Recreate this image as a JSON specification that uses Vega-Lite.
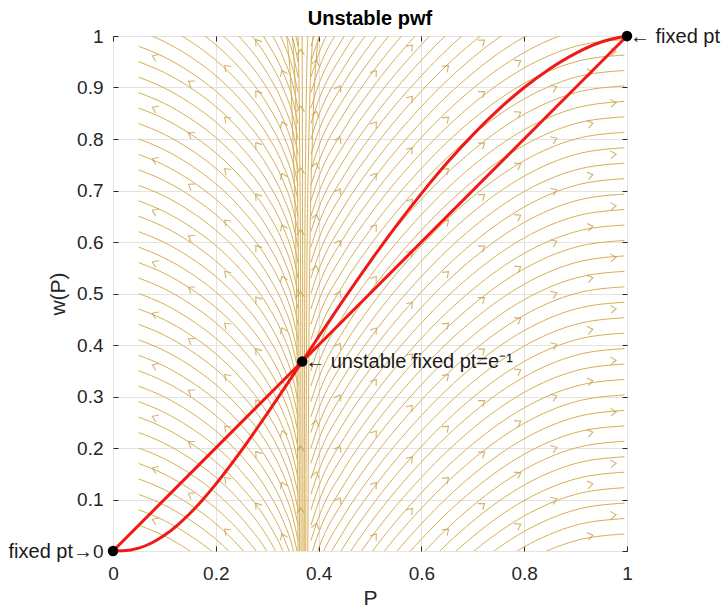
{
"$schema": "https://vega.github.io/schema/vega-lite/v6.json",
"width": 514, "height": 515,
"autosize": {"type": "none"},
"padding": {"left": 113, "top": 36, "right": 97, "bottom": 58},
"background": "white",
"config": {
 "font": "Liberation Sans",
 "view": {"stroke": "#262626", "strokeWidth": 1},
 "axis": {"labelFont": "Liberation Sans", "titleFont": "Liberation Sans", "labelColor": "#262626", "titleColor": "#262626", "domainColor": "#262626", "tickColor": "#262626", "gridColor": "#E3E3E3", "labelFontSize": 19, "titleFontSize": 21, "titleFontWeight": "normal", "labelFlush": false, "labelOverlap": false}
},
"title": {"text": "Unstable pwf", "fontSize": 20, "fontWeight": "bold", "color": "#000000", "offset": -2, "font": "Liberation Sans"},
"datasets": {
 "sl": [
  {"id":"L05","p":[0.05,0.1,0.15,0.2,0.25,0.3,0.33,0.35,0.36],"w":[0.05,0.029,0,-0.037,-0.086,-0.152,-0.209,-0.265,-0.31]},
  {"id":"L08","p":[0.05,0.1,0.15,0.2,0.25,0.3,0.33,0.35,0.36],"w":[0.08,0.059,0.03,-0.007,-0.056,-0.122,-0.179,-0.235,-0.28]},
  {"id":"L11","p":[0.05,0.1,0.15,0.2,0.25,0.3,0.33,0.35,0.36],"w":[0.11,0.089,0.06,0.023,-0.026,-0.092,-0.149,-0.205,-0.25]},
  {"id":"L14","p":[0.05,0.1,0.15,0.2,0.25,0.3,0.33,0.35,0.36],"w":[0.14,0.119,0.09,0.053,0.004,-0.062,-0.119,-0.175,-0.22]},
  {"id":"L17","p":[0.05,0.1,0.15,0.2,0.25,0.3,0.33,0.35,0.36],"w":[0.17,0.149,0.12,0.083,0.034,-0.032,-0.089,-0.145,-0.19]},
  {"id":"L20","p":[0.05,0.1,0.15,0.2,0.25,0.3,0.33,0.35,0.36],"w":[0.2,0.179,0.15,0.113,0.064,-0.002,-0.059,-0.115,-0.16]},
  {"id":"L23","p":[0.05,0.1,0.15,0.2,0.25,0.3,0.33,0.35,0.36],"w":[0.23,0.209,0.18,0.143,0.094,0.028,-0.029,-0.085,-0.13]},
  {"id":"L26","p":[0.05,0.1,0.15,0.2,0.25,0.3,0.33,0.35,0.36],"w":[0.26,0.239,0.21,0.173,0.124,0.058,0.001,-0.055,-0.1]},
  {"id":"L29","p":[0.05,0.1,0.15,0.2,0.25,0.3,0.33,0.35,0.36],"w":[0.29,0.269,0.24,0.203,0.154,0.088,0.031,-0.025,-0.07]},
  {"id":"L32","p":[0.05,0.1,0.15,0.2,0.25,0.3,0.33,0.35,0.36],"w":[0.32,0.299,0.27,0.233,0.184,0.118,0.061,0.005,-0.04]},
  {"id":"L35","p":[0.05,0.1,0.15,0.2,0.25,0.3,0.33,0.35,0.36],"w":[0.35,0.329,0.3,0.263,0.214,0.148,0.091,0.035,-0.01]},
  {"id":"L38","p":[0.05,0.1,0.15,0.2,0.25,0.3,0.33,0.35,0.36],"w":[0.38,0.359,0.33,0.293,0.244,0.178,0.121,0.065,0.02]},
  {"id":"L41","p":[0.05,0.1,0.15,0.2,0.25,0.3,0.33,0.35,0.36],"w":[0.41,0.389,0.36,0.323,0.274,0.208,0.151,0.095,0.05]},
  {"id":"L44","p":[0.05,0.1,0.15,0.2,0.25,0.3,0.33,0.35,0.36],"w":[0.44,0.419,0.39,0.353,0.304,0.238,0.181,0.125,0.08]},
  {"id":"L47","p":[0.05,0.1,0.15,0.2,0.25,0.3,0.33,0.35,0.36],"w":[0.47,0.449,0.42,0.383,0.334,0.268,0.211,0.155,0.11]},
  {"id":"L50","p":[0.05,0.1,0.15,0.2,0.25,0.3,0.33,0.35,0.36],"w":[0.5,0.479,0.45,0.413,0.364,0.298,0.241,0.185,0.14]},
  {"id":"L53","p":[0.05,0.1,0.15,0.2,0.25,0.3,0.33,0.35,0.36],"w":[0.53,0.509,0.48,0.443,0.394,0.328,0.271,0.215,0.17]},
  {"id":"L56","p":[0.05,0.1,0.15,0.2,0.25,0.3,0.33,0.35,0.36],"w":[0.56,0.539,0.51,0.473,0.424,0.358,0.301,0.245,0.2]},
  {"id":"L59","p":[0.05,0.1,0.15,0.2,0.25,0.3,0.33,0.35,0.36],"w":[0.59,0.569,0.54,0.503,0.454,0.388,0.331,0.275,0.23]},
  {"id":"L62","p":[0.05,0.1,0.15,0.2,0.25,0.3,0.33,0.35,0.36],"w":[0.62,0.599,0.57,0.533,0.484,0.418,0.361,0.305,0.26]},
  {"id":"L65","p":[0.05,0.1,0.15,0.2,0.25,0.3,0.33,0.35,0.36],"w":[0.65,0.629,0.6,0.563,0.514,0.448,0.391,0.335,0.29]},
  {"id":"L68","p":[0.05,0.1,0.15,0.2,0.25,0.3,0.33,0.35,0.36],"w":[0.68,0.659,0.63,0.593,0.544,0.478,0.421,0.365,0.32]},
  {"id":"L71","p":[0.05,0.1,0.15,0.2,0.25,0.3,0.33,0.35,0.36],"w":[0.71,0.689,0.66,0.623,0.574,0.508,0.451,0.395,0.35]},
  {"id":"L74","p":[0.05,0.1,0.15,0.2,0.25,0.3,0.33,0.35,0.36],"w":[0.74,0.719,0.69,0.653,0.604,0.538,0.481,0.425,0.38]},
  {"id":"L77","p":[0.05,0.1,0.15,0.2,0.25,0.3,0.33,0.35,0.36],"w":[0.77,0.749,0.72,0.683,0.634,0.568,0.511,0.455,0.41]},
  {"id":"L80","p":[0.05,0.1,0.15,0.2,0.25,0.3,0.33,0.35,0.36],"w":[0.8,0.779,0.75,0.713,0.664,0.598,0.541,0.485,0.44]},
  {"id":"L83","p":[0.05,0.1,0.15,0.2,0.25,0.3,0.33,0.35,0.36],"w":[0.83,0.809,0.78,0.743,0.694,0.628,0.571,0.515,0.47]},
  {"id":"L86","p":[0.05,0.1,0.15,0.2,0.25,0.3,0.33,0.35,0.36],"w":[0.86,0.839,0.81,0.773,0.724,0.658,0.601,0.545,0.5]},
  {"id":"L89","p":[0.05,0.1,0.15,0.2,0.25,0.3,0.33,0.35,0.36],"w":[0.89,0.869,0.84,0.803,0.754,0.688,0.631,0.575,0.53]},
  {"id":"L92","p":[0.05,0.1,0.15,0.2,0.25,0.3,0.33,0.35,0.36],"w":[0.92,0.899,0.87,0.833,0.784,0.718,0.661,0.605,0.56]},
  {"id":"L95","p":[0.05,0.1,0.15,0.2,0.25,0.3,0.33,0.35,0.36],"w":[0.95,0.929,0.9,0.863,0.814,0.748,0.691,0.635,0.59]},
  {"id":"L98","p":[0.05,0.1,0.15,0.2,0.25,0.3,0.33,0.35,0.36],"w":[0.98,0.959,0.93,0.893,0.844,0.778,0.721,0.665,0.62]},
  {"id":"L101","p":[0.05,0.1,0.15,0.2,0.25,0.3,0.33,0.35,0.36],"w":[1.01,0.989,0.96,0.923,0.874,0.808,0.751,0.695,0.65]},
  {"id":"L104","p":[0.05,0.1,0.15,0.2,0.25,0.3,0.33,0.35,0.36],"w":[1.04,1.019,0.99,0.953,0.904,0.838,0.781,0.725,0.68]},
  {"id":"L107","p":[0.05,0.1,0.15,0.2,0.25,0.3,0.33,0.35,0.36],"w":[1.07,1.049,1.02,0.983,0.934,0.868,0.811,0.755,0.71]},
  {"id":"L110","p":[0.05,0.1,0.15,0.2,0.25,0.3,0.33,0.35,0.36],"w":[1.1,1.079,1.05,1.013,0.964,0.898,0.841,0.785,0.74]},
  {"id":"L113","p":[0.05,0.1,0.15,0.2,0.25,0.3,0.33,0.35,0.36],"w":[1.13,1.109,1.08,1.043,0.994,0.928,0.871,0.815,0.77]},
  {"id":"L116","p":[0.05,0.1,0.15,0.2,0.25,0.3,0.33,0.35,0.36],"w":[1.16,1.139,1.11,1.073,1.024,0.958,0.901,0.845,0.8]},
  {"id":"L119","p":[0.05,0.1,0.15,0.2,0.25,0.3,0.33,0.35,0.36],"w":[1.19,1.169,1.14,1.103,1.054,0.988,0.931,0.875,0.83]},
  {"id":"L122","p":[0.05,0.1,0.15,0.2,0.25,0.3,0.33,0.35,0.36],"w":[1.22,1.199,1.17,1.133,1.084,1.018,0.961,0.905,0.86]},
  {"id":"L125","p":[0.05,0.1,0.15,0.2,0.25,0.3,0.33,0.35,0.36],"w":[1.25,1.229,1.2,1.163,1.114,1.048,0.991,0.935,0.89]},
  {"id":"L128","p":[0.05,0.1,0.15,0.2,0.25,0.3,0.33,0.35,0.36],"w":[1.28,1.259,1.23,1.193,1.144,1.078,1.021,0.965,0.92]},
  {"id":"L131","p":[0.05,0.1,0.15,0.2,0.25,0.3,0.33,0.35,0.36],"w":[1.31,1.289,1.26,1.223,1.174,1.108,1.051,0.995,0.95]},
  {"id":"L134","p":[0.05,0.1,0.15,0.2,0.25,0.3,0.33,0.35,0.36],"w":[1.34,1.319,1.29,1.253,1.204,1.138,1.081,1.025,0.98]},
  {"id":"Rm52","p":[0.385,0.4,0.45,0.5,0.6,0.7,0.8,0.9,0.995],"w":[-0.52,-0.475,-0.38,-0.307,-0.187,-0.092,-0.022,0.02,0.033]},
  {"id":"Rm49","p":[0.385,0.4,0.45,0.5,0.6,0.7,0.8,0.9,0.995],"w":[-0.49,-0.445,-0.35,-0.277,-0.157,-0.062,0.008,0.05,0.063]},
  {"id":"Rm46","p":[0.385,0.4,0.45,0.5,0.6,0.7,0.8,0.9,0.995],"w":[-0.46,-0.415,-0.32,-0.247,-0.127,-0.032,0.038,0.08,0.093]},
  {"id":"Rm43","p":[0.385,0.4,0.45,0.5,0.6,0.7,0.8,0.9,0.995],"w":[-0.43,-0.385,-0.29,-0.217,-0.097,-0.002,0.068,0.11,0.123]},
  {"id":"Rm40","p":[0.385,0.4,0.45,0.5,0.6,0.7,0.8,0.9,0.995],"w":[-0.4,-0.355,-0.26,-0.187,-0.067,0.028,0.098,0.14,0.153]},
  {"id":"Rm37","p":[0.385,0.4,0.45,0.5,0.6,0.7,0.8,0.9,0.995],"w":[-0.37,-0.325,-0.23,-0.157,-0.037,0.058,0.128,0.17,0.183]},
  {"id":"Rm34","p":[0.385,0.4,0.45,0.5,0.6,0.7,0.8,0.9,0.995],"w":[-0.34,-0.295,-0.2,-0.127,-0.007,0.088,0.158,0.2,0.213]},
  {"id":"Rm31","p":[0.385,0.4,0.45,0.5,0.6,0.7,0.8,0.9,0.995],"w":[-0.31,-0.265,-0.17,-0.097,0.023,0.118,0.188,0.23,0.243]},
  {"id":"Rm28","p":[0.385,0.4,0.45,0.5,0.6,0.7,0.8,0.9,0.995],"w":[-0.28,-0.235,-0.14,-0.067,0.053,0.148,0.218,0.26,0.273]},
  {"id":"Rm25","p":[0.385,0.4,0.45,0.5,0.6,0.7,0.8,0.9,0.995],"w":[-0.25,-0.205,-0.11,-0.037,0.083,0.178,0.248,0.29,0.303]},
  {"id":"Rm22","p":[0.385,0.4,0.45,0.5,0.6,0.7,0.8,0.9,0.995],"w":[-0.22,-0.175,-0.08,-0.007,0.113,0.208,0.278,0.32,0.333]},
  {"id":"Rm19","p":[0.385,0.4,0.45,0.5,0.6,0.7,0.8,0.9,0.995],"w":[-0.19,-0.145,-0.05,0.023,0.143,0.238,0.308,0.35,0.363]},
  {"id":"Rm16","p":[0.385,0.4,0.45,0.5,0.6,0.7,0.8,0.9,0.995],"w":[-0.16,-0.115,-0.02,0.053,0.173,0.268,0.338,0.38,0.393]},
  {"id":"Rm13","p":[0.385,0.4,0.45,0.5,0.6,0.7,0.8,0.9,0.995],"w":[-0.13,-0.085,0.01,0.083,0.203,0.298,0.368,0.41,0.423]},
  {"id":"Rm10","p":[0.385,0.4,0.45,0.5,0.6,0.7,0.8,0.9,0.995],"w":[-0.1,-0.055,0.04,0.113,0.233,0.328,0.398,0.44,0.453]},
  {"id":"Rm07","p":[0.385,0.4,0.45,0.5,0.6,0.7,0.8,0.9,0.995],"w":[-0.07,-0.025,0.07,0.143,0.263,0.358,0.428,0.47,0.483]},
  {"id":"Rm04","p":[0.385,0.4,0.45,0.5,0.6,0.7,0.8,0.9,0.995],"w":[-0.04,0.005,0.1,0.173,0.293,0.388,0.458,0.5,0.513]},
  {"id":"Rm01","p":[0.385,0.4,0.45,0.5,0.6,0.7,0.8,0.9,0.995],"w":[-0.01,0.035,0.13,0.203,0.323,0.418,0.488,0.53,0.543]},
  {"id":"R02","p":[0.385,0.4,0.45,0.5,0.6,0.7,0.8,0.9,0.995],"w":[0.02,0.065,0.16,0.233,0.353,0.448,0.518,0.56,0.573]},
  {"id":"R05","p":[0.385,0.4,0.45,0.5,0.6,0.7,0.8,0.9,0.995],"w":[0.05,0.095,0.19,0.263,0.383,0.478,0.548,0.59,0.603]},
  {"id":"R08","p":[0.385,0.4,0.45,0.5,0.6,0.7,0.8,0.9,0.995],"w":[0.08,0.125,0.22,0.293,0.413,0.508,0.578,0.62,0.633]},
  {"id":"R11","p":[0.385,0.4,0.45,0.5,0.6,0.7,0.8,0.9,0.995],"w":[0.11,0.155,0.25,0.323,0.443,0.538,0.608,0.65,0.663]},
  {"id":"R14","p":[0.385,0.4,0.45,0.5,0.6,0.7,0.8,0.9,0.995],"w":[0.14,0.185,0.28,0.353,0.473,0.568,0.638,0.68,0.693]},
  {"id":"R17","p":[0.385,0.4,0.45,0.5,0.6,0.7,0.8,0.9,0.995],"w":[0.17,0.215,0.31,0.383,0.503,0.598,0.668,0.71,0.723]},
  {"id":"R20","p":[0.385,0.4,0.45,0.5,0.6,0.7,0.8,0.9,0.995],"w":[0.2,0.245,0.34,0.413,0.533,0.628,0.698,0.74,0.753]},
  {"id":"R23","p":[0.385,0.4,0.45,0.5,0.6,0.7,0.8,0.9,0.995],"w":[0.23,0.275,0.37,0.443,0.563,0.658,0.728,0.77,0.783]},
  {"id":"R26","p":[0.385,0.4,0.45,0.5,0.6,0.7,0.8,0.9,0.995],"w":[0.26,0.305,0.4,0.473,0.593,0.688,0.758,0.8,0.813]},
  {"id":"R29","p":[0.385,0.4,0.45,0.5,0.6,0.7,0.8,0.9,0.995],"w":[0.29,0.335,0.43,0.503,0.623,0.718,0.788,0.83,0.843]},
  {"id":"R32","p":[0.385,0.4,0.45,0.5,0.6,0.7,0.8,0.9,0.995],"w":[0.32,0.365,0.46,0.533,0.653,0.748,0.818,0.86,0.873]},
  {"id":"R35","p":[0.385,0.4,0.45,0.5,0.6,0.7,0.8,0.9,0.995],"w":[0.35,0.395,0.49,0.563,0.683,0.778,0.848,0.89,0.903]},
  {"id":"R38","p":[0.385,0.4,0.45,0.5,0.6,0.7,0.8,0.9,0.995],"w":[0.38,0.425,0.52,0.593,0.713,0.808,0.878,0.92,0.933]},
  {"id":"R41","p":[0.385,0.4,0.45,0.5,0.6,0.7,0.8,0.9,0.995],"w":[0.41,0.455,0.55,0.623,0.743,0.838,0.908,0.95,0.963]},
  {"id":"R44","p":[0.385,0.4,0.45,0.5,0.6,0.7,0.8,0.9,0.995],"w":[0.44,0.485,0.58,0.653,0.773,0.868,0.938,0.98,0.993]},
  {"id":"R47","p":[0.385,0.4,0.45,0.5,0.6,0.7,0.8,0.9,0.995],"w":[0.47,0.515,0.61,0.683,0.803,0.898,0.968,1.01,1.023]},
  {"id":"R50","p":[0.385,0.4,0.45,0.5,0.6,0.7,0.8,0.9,0.995],"w":[0.5,0.545,0.64,0.713,0.833,0.928,0.998,1.04,1.053]},
  {"id":"R53","p":[0.385,0.4,0.45,0.5,0.6,0.7,0.8,0.9,0.995],"w":[0.53,0.575,0.67,0.743,0.863,0.958,1.028,1.07,1.083]},
  {"id":"R56","p":[0.385,0.4,0.45,0.5,0.6,0.7,0.8,0.9,0.995],"w":[0.56,0.605,0.7,0.773,0.893,0.988,1.058,1.1,1.113]},
  {"id":"R59","p":[0.385,0.4,0.45,0.5,0.6,0.7,0.8,0.9,0.995],"w":[0.59,0.635,0.73,0.803,0.923,1.018,1.088,1.13,1.143]},
  {"id":"R62","p":[0.385,0.4,0.45,0.5,0.6,0.7,0.8,0.9,0.995],"w":[0.62,0.665,0.76,0.833,0.953,1.048,1.118,1.16,1.173]},
  {"id":"R65","p":[0.385,0.4,0.45,0.5,0.6,0.7,0.8,0.9,0.995],"w":[0.65,0.695,0.79,0.863,0.983,1.078,1.148,1.19,1.203]},
  {"id":"R68","p":[0.385,0.4,0.45,0.5,0.6,0.7,0.8],"w":[0.68,0.725,0.82,0.893,1.013,1.108,1.178]},
  {"id":"R71","p":[0.385,0.4,0.45,0.5,0.6,0.7],"w":[0.71,0.755,0.85,0.923,1.043,1.138]},
  {"id":"R74","p":[0.385,0.4,0.45,0.5,0.6,0.7],"w":[0.74,0.785,0.88,0.953,1.073,1.168]},
  {"id":"R77","p":[0.385,0.4,0.45,0.5,0.6,0.7],"w":[0.77,0.815,0.91,0.983,1.103,1.198]},
  {"id":"R80","p":[0.385,0.4,0.45,0.5,0.6],"w":[0.8,0.845,0.94,1.013,1.133]},
  {"id":"R83","p":[0.385,0.4,0.45,0.5,0.6],"w":[0.83,0.875,0.97,1.043,1.163]},
  {"id":"R86","p":[0.385,0.4,0.45,0.5,0.6],"w":[0.86,0.905,1,1.073,1.193]},
  {"id":"R89","p":[0.385,0.4,0.45,0.5],"w":[0.89,0.935,1.03,1.103]},
  {"id":"R92","p":[0.385,0.4,0.45,0.5],"w":[0.92,0.965,1.06,1.133]},
  {"id":"R95","p":[0.385,0.4,0.45,0.5],"w":[0.95,0.995,1.09,1.163]},
  {"id":"R98","p":[0.385,0.4,0.45],"w":[0.98,1.025,1.12]},
  {"id":"B0","p":[0.338,0.35,0.357,0.36],"w":[1,0.8,0.5,0]},
  {"id":"B1","p":[0.349,0.357,0.361,0.363],"w":[1,0.8,0.5,0]},
  {"id":"B2","p":[0.36,0.363,0.365,0.366],"w":[1,0.8,0.5,0]},
  {"id":"B3","p":[0.368,0.3685,0.369,0.3695],"w":[1,0.8,0.5,0]},
  {"id":"B4","p":[0.372,0.373,0.375,0.379],"w":[0,0.5,0.8,1]},
  {"id":"B5","p":[0.375,0.377,0.381,0.389],"w":[0,0.5,0.8,1]},
  {"id":"B6","p":[0.379,0.382,0.388,0.4],"w":[0,0.5,0.8,1]}
 ],
 "arrows": [
  {"p":0.08,"a":-66,"w":[0.06,0.16,0.26,0.36,0.46,0.56,0.66,0.76,0.86,0.96]},
  {"p":0.15,"a":-57,"w":[0.11,0.21,0.31,0.41,0.51,0.61,0.71,0.81,0.91]},
  {"p":0.22,"a":-46,"w":[0.04,0.14,0.24,0.34,0.44,0.54,0.64,0.74,0.84,0.94]},
  {"p":0.28,"a":-37,"w":[0.09,0.19,0.29,0.39,0.49,0.59,0.69,0.79,0.89,0.99]},
  {"p":0.33,"a":-23,"w":[0.03,0.13,0.23,0.43,0.53,0.63,0.73,0.83,0.93]},
  {"p":0.365,"a":0,"w":[0.08,0.2,0.5,0.62,0.74,0.86,0.97]},
  {"p":0.395,"a":14,"w":[0.05,0.15,0.25,0.55,0.65,0.75,0.85,0.95]},
  {"p":0.44,"a":28,"w":[0.1,0.2,0.3,0.4,0.5,0.6,0.7,0.8,0.9]},
  {"p":0.51,"a":37,"w":[0.03,0.13,0.23,0.33,0.43,0.53,0.63,0.73,0.83,0.93]},
  {"p":0.58,"a":42,"w":[0.08,0.18,0.28,0.38,0.48,0.58,0.68,0.78,0.88,0.98]},
  {"p":0.65,"a":48,"w":[0.04,0.14,0.24,0.34,0.44,0.54,0.64,0.74,0.84,0.94]},
  {"p":0.72,"a":53,"w":[0.09,0.19,0.29,0.39,0.49,0.59,0.69,0.79,0.89,0.99]},
  {"p":0.79,"a":60,"w":[0.05,0.15,0.25,0.35,0.45,0.55,0.65,0.75,0.85,0.95]},
  {"p":0.86,"a":68,"w":[0.1,0.2,0.3,0.4,0.5,0.6,0.7,0.8,0.9]},
  {"p":0.93,"a":78,"w":[0.03,0.13,0.23,0.33,0.43,0.53,0.63,0.73,0.83,0.93]},
  {"p":0.975,"a":85,"w":[0.07,0.17,0.27,0.37,0.47,0.57,0.67,0.77,0.87,0.97]}
 ],
 "red": [
  {"c":"diag","p":0,"w":0},{"c":"diag","p":0.368,"w":0.368},{"c":"diag","p":1,"w":1},
  {"c":"pwf","p":0,"w":0},{"c":"pwf","p":0.02,"w":0.0004},{"c":"pwf","p":0.05,"w":0.0056},{"c":"pwf","p":0.075,"w":0.0155},{"c":"pwf","p":0.1,"w":0.0304},{"c":"pwf","p":0.125,"w":0.0499},{"c":"pwf","p":0.15,"w":0.0733},{"c":"pwf","p":0.175,"w":0.1002},{"c":"pwf","p":0.2,"w":0.1299},{"c":"pwf","p":0.25,"w":0.1955},{"c":"pwf","p":0.3,"w":0.2669},{"c":"pwf","p":0.35,"w":0.341},{"c":"pwf","p":0.368,"w":0.368},{"c":"pwf","p":0.4,"w":0.416},{"c":"pwf","p":0.45,"w":0.49},{"c":"pwf","p":0.5,"w":0.5616},{"c":"pwf","p":0.55,"w":0.63},{"c":"pwf","p":0.6,"w":0.694},{"c":"pwf","p":0.65,"w":0.7537},{"c":"pwf","p":0.7,"w":0.808},{"c":"pwf","p":0.75,"w":0.857},{"c":"pwf","p":0.8,"w":0.9},{"c":"pwf","p":0.85,"w":0.9366},{"c":"pwf","p":0.9,"w":0.9664},{"c":"pwf","p":0.95,"w":0.9884},{"c":"pwf","p":1,"w":1}
 ],
 "pts": [
  {"p":0,"w":0,"t":"fixed pt→","side":"r"},
  {"p":0.368,"w":0.368,"t":"← unstable fixed pt=e⁻¹","side":"l"},
  {"p":1,"w":1,"t":"← fixed pt","side":"l"}
 ]
},
"layer": [
 {
  "data": {"name": "sl"},
  "transform": [{"flatten": ["p", "w"]}],
  "mark": {"type": "line", "clip": true, "color": "#D6AF56", "strokeWidth": 1, "interpolate": "monotone"},
  "encoding": {
   "x": {"field": "p", "type": "quantitative", "scale": {"domain": [0, 1], "nice": false, "zero": false},
     "axis": {"values": [0, 0.2, 0.4, 0.6, 0.8, 1], "format": "~g", "title": "P", "tickSize": -5, "labelPadding": 18, "titlePadding": 4, "grid": true, "domain": false}},
   "y": {"field": "w", "type": "quantitative", "scale": {"domain": [0, 1], "nice": false, "zero": false},
     "axis": {"values": [0, 0.1, 0.2, 0.3, 0.4, 0.5, 0.6, 0.7, 0.8, 0.9, 1], "format": "~g", "title": "w(P)", "tickSize": -5, "labelPadding": 15, "titlePadding": 8, "grid": true, "domain": false}},
   "detail": {"field": "id"},
   "order": {"field": "p", "type": "quantitative"}
  }
 },
 {
  "data": {"name": "arrows"},
  "transform": [{"flatten": ["w"]}],
  "mark": {"type": "point", "shape": "M-1,0.9L0,-0.5L1,0.9", "filled": false, "color": "#C39232", "strokeWidth": 1.1, "size": 60, "clip": true},
  "encoding": {
   "x": {"field": "p", "type": "quantitative", "scale": {"domain": [0, 1], "nice": false, "zero": false},
     "axis": {"orient": "top", "values": [0, 0.2, 0.4, 0.6, 0.8, 1], "labels": false, "tickSize": -5, "grid": false, "domain": false, "title": null}},
   "y": {"field": "w", "type": "quantitative", "scale": {"domain": [0, 1], "nice": false, "zero": false},
     "axis": {"orient": "right", "values": [0, 0.1, 0.2, 0.3, 0.4, 0.5, 0.6, 0.7, 0.8, 0.9, 1], "labels": false, "tickSize": -5, "grid": false, "domain": false, "title": null}},
   "angle": {"field": "a", "type": "quantitative", "scale": null}
  }
 },
 {
  "data": {"name": "red"},
  "mark": {"type": "line", "color": "#F01A14", "strokeWidth": 3, "interpolate": "monotone"},
  "encoding": {
   "x": {"field": "p", "type": "quantitative", "axis": null},
   "y": {"field": "w", "type": "quantitative", "axis": null},
   "detail": {"field": "c"}
  }
 },
 {
  "data": {"name": "pts"},
  "mark": {"type": "point", "filled": true, "color": "#000000", "size": 110, "opacity": 1},
  "encoding": {
   "x": {"field": "p", "type": "quantitative", "axis": null},
   "y": {"field": "w", "type": "quantitative", "axis": null}
  }
 },
 {
  "data": {"name": "pts"},
  "transform": [{"filter": "datum.side == 'l'"}],
  "mark": {"type": "text", "align": "left", "baseline": "middle", "dx": 3, "dy": 1, "fontSize": 20, "font": "Liberation Sans", "color": "#1a1a1a"},
  "encoding": {
   "x": {"field": "p", "type": "quantitative", "axis": null},
   "y": {"field": "w", "type": "quantitative", "axis": null},
   "text": {"field": "t"}
  }
 },
 {
  "data": {"name": "pts"},
  "transform": [{"filter": "datum.side == 'r'"}],
  "mark": {"type": "text", "align": "right", "baseline": "middle", "dx": -20, "dy": 1, "fontSize": 20, "font": "Liberation Sans", "color": "#1a1a1a"},
  "encoding": {
   "x": {"field": "p", "type": "quantitative", "axis": null},
   "y": {"field": "w", "type": "quantitative", "axis": null},
   "text": {"field": "t"}
  }
 }
],
"resolve": {"axis": {"x": "independent", "y": "independent"}}
}
